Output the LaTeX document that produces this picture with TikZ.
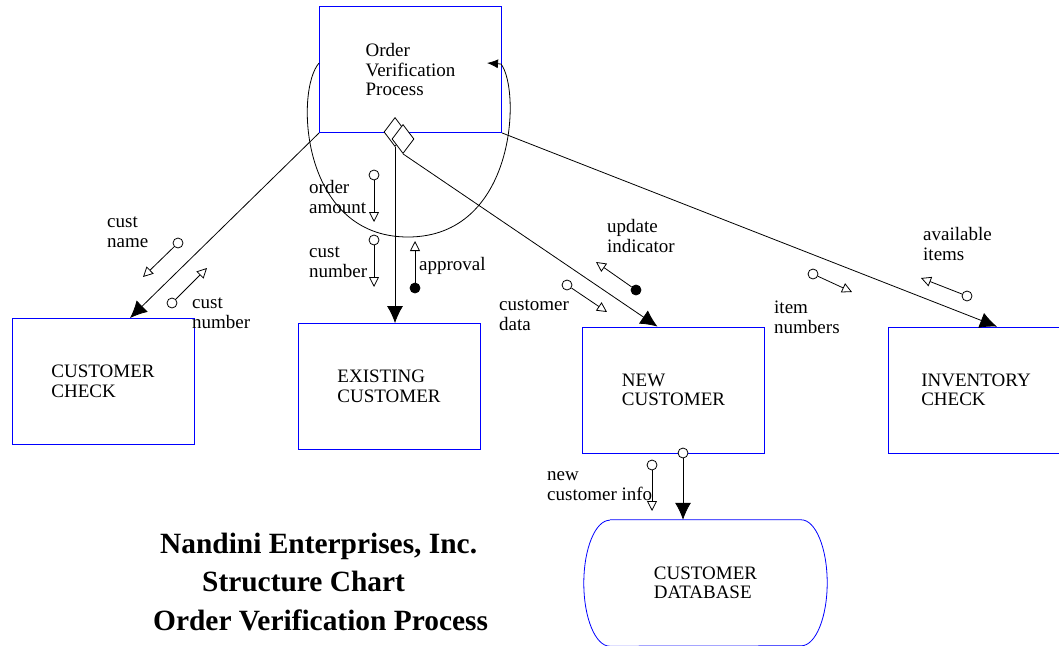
\documentclass[tikz,border=0pt]{standalone}
\usepackage{fontspec}
\setmainfont{Liberation Serif}
\usetikzlibrary{arrows.meta,shapes.geometric}

\begin{document}
\begin{tikzpicture}
  [x=1pt,y=-1pt,every node/.style={font=\fontsize{19}{19.5}\selectfont},
   module/.style={draw=blue,line width=0.8pt,minimum width=182pt,minimum height=126pt,align=left,inner sep=0pt},
   flowtag/.style={anchor=base west,align=left,inner sep=0pt},
   datadot/.style={circle,draw,fill=white,line width=0.8pt,minimum size=10pt,inner sep=0pt},
   flagdot/.style={datadot,fill=black},
   switch/.style={diamond,draw,fill=white,line width=0.8pt,minimum width=22pt,minimum height=29pt,inner sep=0pt}]
 \tikzset{call/.style = {-{Latex[length=17pt,width=16pt]},line width=0.8pt},
          couple/.style = {-{Triangle[open,length=10pt,width=10pt]},line width=0.8pt},
          iterarc/.style = {-{Latex[length=11pt,width=9pt]},line width=0.8pt}}
  \useasboundingbox (0,0) rectangle (1059,645);
  \clip (0,0) rectangle (1059,645);

  % modules
  \node[module] (ovp)   at (410.5,69.5) {Order\\Verification\\Process};
  \node[module] (cchk)  at (103,381.5)  {CUSTOMER\\CHECK};
  \node[module] (exist) at (389,386.5)  {EXISTING\\CUSTOMER};
  \node[module] (newc)  at (673.5,390)  {NEW\\CUSTOMER};
  \node[module,minimum width=176pt] (inv) at (976,390) {INVENTORY\\CHECK};
  \node[minimum width=243pt,minimum height=126pt,align=left] (db) at (705.5,583) {CUSTOMER\\DATABASE};
  \draw[blue,line width=0.8pt] ([xshift=26pt]db.north west) -- ([xshift=-26pt]db.north east)
    arc[start angle=90,end angle=-90,x radius=26pt,y radius=63pt] -- ([xshift=26pt]db.south west)
    arc[start angle=270,end angle=90,x radius=26pt,y radius=63pt];

  % decision diamonds
  \node[switch] (d1) at (395,132) {};
  \node[switch] (d2) at (403,139) {};

  % calls
  \draw[call] (ovp.south west) to ([xshift=27pt]cchk.north);
  \draw[call] (d1.south) to ([xshift=6pt]exist.north);
  \draw[call] (d2.south) to ([xshift=-16pt]newc.north);
  \draw[call] (ovp.south east) to ([xshift=21pt]inv.north);
  \node[datadot] (ndot) at (683,453) {};
  \draw[call] (ndot) to ([xshift=-22.5pt]db.north);

  % iteration
  \draw[iterarc] ([yshift=6.5pt]ovp.west) .. controls (295,90) and (300,237) .. (408,237)
    .. controls (516,237) and (521,90) .. (501,64) -- (487,63);

  % couples
  \foreach \nm/\cx/\cy/\ex/\ey/\kind in {cname/178/243/143/277/datadot,cnum/172/303/207/268/datadot,
      oamt/374/175/374/222/datadot,cnum2/374/240/374/287/datadot,appr/415/288/415/241/flagdot,
      cdata/567/285/607/312/datadot,upd/636/290/596/262/flagdot,item/813/274/852/292/datadot,
      avail/967/296/921/278/datadot,ninfo/652/465/652/511/datadot}
  {
    \node[\kind] (\nm) at (\cx,\cy) {};
    \coordinate (\nm-end) at (\ex,\ey);
    \draw[couple] (\nm) to (\nm-end);
  }

  % base anchor sits on the last line
  \node[flowtag] (lcname)   at (107,247) {cust\\name};
  \node[flowtag] (lcnum)    at (192,328) {cust\\number};
  \node[flowtag] (lorder)   at (309,213) {order\\amount};
  \node[flowtag] (lcnum2)   at (309,277) {cust\\number};
  \node[flowtag] (lappr)    at (419,270) {approval};
  \node[flowtag] (lcdata)   at (499,330) {customer\\data};
  \node[flowtag] (lupd)     at (607,252) {update\\indicator};
  \node[flowtag] (litem)    at (774,333) {item\\numbers};
  \node[flowtag] (lavail)   at (923,260) {available\\items};
  \node[flowtag] (lnewinfo) at (547,500) {new\\customer info};

  % title
  \node[anchor=base west,inner sep=0pt,font=\fontsize{29.4}{38}\selectfont\bfseries] (company) at (160,553) {Nandini Enterprises, Inc.};
  \node[anchor=base west,inner sep=0pt,font=\fontsize{29.4}{38}\selectfont\bfseries] (chart)   at (202,591) {Structure Chart};
  \node[anchor=base west,inner sep=0pt,font=\fontsize{29.4}{38}\selectfont\bfseries] (process) at (153,630) {Order Verification Process};

\end{tikzpicture}
\end{document}
